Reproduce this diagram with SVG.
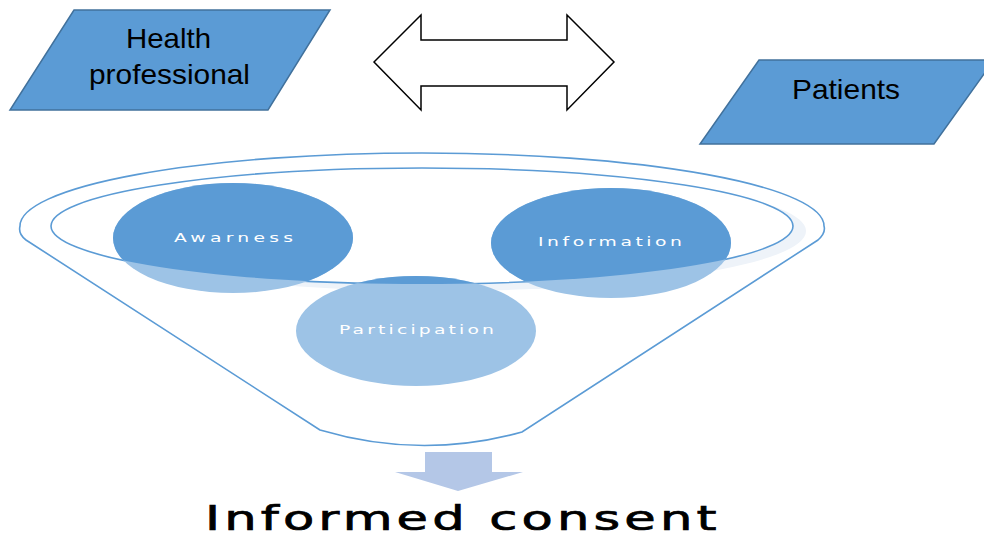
<svg xmlns="http://www.w3.org/2000/svg" width="984" height="538" viewBox="0 0 984 538">
<style>
.para{fill:#5b9bd5;stroke:#41719c;stroke-width:1.5}
.lbl{font-family:"Liberation Sans",Arial,sans-serif;font-size:28px;fill:#000}
.ctext{font-family:"DejaVu Sans",Verdana,sans-serif;font-size:12.5px;fill:#fff}
.ring{fill:none;stroke:#5b9bd5;stroke-width:1.6}
.light{fill:#9dc3e6}
.dark{fill:#5b9bd5}
</style>
<defs>
<clipPath id="inner"><ellipse cx="422" cy="226" rx="371" ry="58"/></clipPath>
</defs>
<rect width="984" height="538" fill="#fff"/>
<g id="health-professional">
<polygon class="para" points="74,10 330,10 268,110 10,110"/>
<text class="lbl" x="126" y="48" textLength="85" lengthAdjust="spacingAndGlyphs">Health</text>
<text class="lbl" x="89" y="84" textLength="161" lengthAdjust="spacingAndGlyphs">professional</text>
</g>
<g id="patients">
<polygon class="para" points="759,60 994,60 934,144 700,144"/>
<text class="lbl" x="792" y="99" textLength="108" lengthAdjust="spacingAndGlyphs">Patients</text>
</g>
<g id="connectors">
<polygon points="374,62 421,15 421,40 567,40 567,15 614,62 567,110 567,86 421,86 421,110" fill="#fff" stroke="#000" stroke-width="1.5" stroke-linejoin="miter"/>
<polygon points="425,452 492,452 492,472 523,472 458,491 395,472 425,472" fill="#b4c7e7"/>
</g>
<g id="funnel">
<ellipse cx="440" cy="231" rx="366" ry="60" fill="#eef3f9"/>
<ellipse cx="422" cy="226" rx="371" ry="58" fill="#fff"/>
<path class="ring" d="M 320,430 L 26,240 Q 18,234 20,226 A 402 73 0 0 1 824,226 Q 826,233 818,240 L 522,432 Q 421,460 320,430 Z"/>
<ellipse class="ring" cx="422" cy="226" rx="371" ry="58"/>
</g>
<g id="awarness">
<ellipse class="light" cx="233" cy="238" rx="120" ry="55"/>
<ellipse class="dark" cx="233" cy="238" rx="120" ry="55" clip-path="url(#inner)"/>
<text class="ctext" transform="translate(174,242) scale(1.5,1)" textLength="79.3" lengthAdjust="spacing">Awarness</text>
</g>
<g id="information">
<ellipse class="light" cx="611" cy="243" rx="120" ry="55"/>
<ellipse class="dark" cx="611" cy="243" rx="120" ry="55" clip-path="url(#inner)"/>
<text class="ctext" transform="translate(538,246) scale(1.5,1)" textLength="96" lengthAdjust="spacing">Information</text>
</g>
<g id="participation">
<ellipse class="light" cx="416" cy="331" rx="120" ry="55"/>
<ellipse class="dark" cx="416" cy="331" rx="120" ry="55" clip-path="url(#inner)"/>
<text class="ctext" transform="translate(339,334) scale(1.5,1)" textLength="103.3" lengthAdjust="spacing">Participation</text>
</g>
<g id="informed-consent">
<text transform="translate(205,530) scale(1.55,1)" textLength="330" lengthAdjust="spacing" style="font-family:'DejaVu Sans',Verdana,sans-serif;font-size:33px;fill:#000;stroke:#000;stroke-width:0.7">Informed consent</text>
</g>
</svg>
